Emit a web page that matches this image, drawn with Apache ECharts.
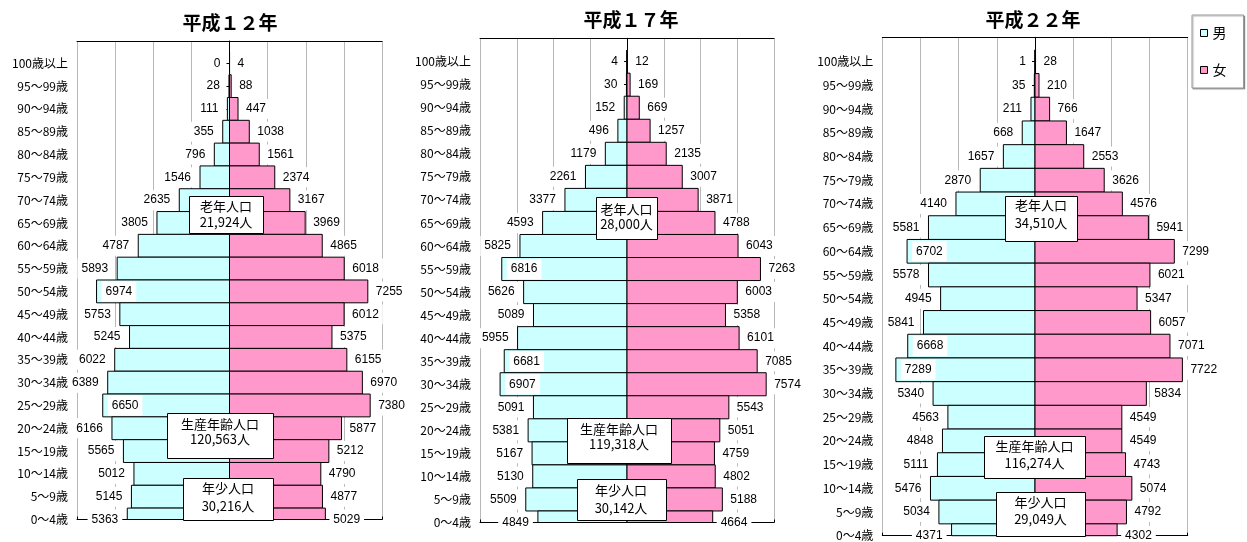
<!DOCTYPE html>
<html>
<head>
<meta charset="utf-8">
<script src="https://cdn.jsdelivr.net/npm/echarts@6/dist/echarts.min.js"></script>
<style>
  html, body { margin: 0; padding: 0; background: #fff; }
  #chart { width: 1247px; height: 542px; }
</style>
</head>
<body>
<div id="chart"></div>
<script>
// Age groups, oldest at the top
const AGES = ['100歳以上', '95～99歳', '90～94歳', '85～89歳', '80～84歳', '75～79歳', '70～74歳',
  '65～69歳', '60～64歳', '55～59歳', '50～54歳', '45～49歳', '40～44歳', '35～39歳', '30～34歳',
  '25～29歳', '20～24歳', '15～19歳', '10～14歳', '5～9歳', '0～4歳'];

const YEARS = ['平成１２年', '平成１７年', '平成２２年'];

// Population by age group (persons), same order as AGES
const MALE_H12   = [0, 28, 111, 355, 796, 1546, 2635, 3805, 4787, 5893, 6974, 5753, 5245, 6022, 6389, 6650, 6166, 5565, 5012, 5145, 5363];
const FEMALE_H12 = [4, 88, 447, 1038, 1561, 2374, 3167, 3969, 4865, 6018, 7255, 6012, 5375, 6155, 6970, 7380, 5877, 5212, 4790, 4877, 5029];
const MALE_H17   = [4, 30, 152, 496, 1179, 2261, 3377, 4593, 5825, 6816, 5626, 5089, 5955, 6681, 6907, 5091, 5381, 5167, 5130, 5509, 4849];
const FEMALE_H17 = [12, 169, 669, 1257, 2135, 3007, 3871, 4788, 6043, 7263, 6003, 5358, 6101, 7085, 7574, 5543, 5051, 4759, 4802, 5188, 4664];
const MALE_H22   = [1, 35, 211, 668, 1657, 2870, 4140, 5581, 6702, 5578, 4945, 5841, 6668, 7289, 5340, 4563, 4848, 5111, 5476, 5034, 4371];
const FEMALE_H22 = [28, 210, 766, 1647, 2553, 3626, 4576, 5941, 7299, 6021, 5347, 6057, 7071, 7722, 5834, 4549, 4549, 4743, 5074, 4792, 4302];

// Totals of the three age bands as published
const ELDERLY  = [21924, 28000, 34510];
const WORKING  = [120563, 119318, 116274];
const CHILDREN = [30216, 30142, 29049];

const MALE = [MALE_H12, MALE_H17, MALE_H22];
const FEMALE = [FEMALE_H12, FEMALE_H17, FEMALE_H22];

const MALE_COLOR = '#ccffff';
const FEMALE_COLOR = '#ff99cc';
const GRID_COLOR = '#b8b8b8';
const NUM_FONT = '12px "Liberation Sans", Arial, sans-serif';
const CJK = '"Noto Sans CJK JP", sans-serif';

// Plot frames of the three pyramids (pixels) and the age-index range each one shows
const FRAMES = [
  { left: 77,    top: 41,   right: 382,    bottom: 519.5, yMin: -0.977, yMax: 20, titleX: 230,  titleY: 23 },
  { left: 480,   top: 38.3, right: 774,    bottom: 522.5, yMin: -1.014, yMax: 20, titleX: 631,  titleY: 20 },
  { left: 882.3, top: 37.3, right: 1187.7, bottom: 535.7, yMin: -1.03,  yMax: 20, titleX: 1033, titleY: 19.5 }
];

// Boxes naming the age bands: [x, y, w, h, centreX, line1Y, line2Y]
const BOXES = [
  [[189, 196, 74, 37, 226, 206.5, 222.5], [167, 413, 106, 45, 220, 424, 439], [183, 478, 90, 42, 228, 488.5, 506]],
  [[596, 197, 61, 42, 626.5, 209, 224], [567, 418, 104, 45, 619, 429.5, 444], [577, 479, 89, 41, 621, 490, 508]],
  [[1005, 196, 72, 45, 1041, 205.5, 223], [984, 436, 101, 42, 1034.5, 446.5, 463.5], [996, 492, 89, 44, 1040.5, 502.5, 519.5]]
];

const fmt = n => n.toLocaleString('en-US');

function barRenderer(isMale) {
  return function (params, api) {
    const v = api.value(0);
    const idx = api.value(1);
    const raw = api.value(2);
    const a = api.coord([0, idx]);
    const b = api.coord([v, idx]);
    const h = api.size([0, 1])[1];
    const cs = params.coordSys;
    const shape = echarts.graphic.clipRectByRect(
      { x: Math.min(a[0], b[0]), y: a[1] - h / 2, width: Math.abs(b[0] - a[0]), height: h },
      { x: cs.x, y: cs.y, width: cs.width, height: cs.height }
    );
    const children = [];
    if (shape) {
      children.push({
        type: 'rect', shape: shape,
        style: { fill: isMale ? MALE_COLOR : FEMALE_COLOR, stroke: '#000', lineWidth: 1 }
      });
    }
    let lx, align;
    if (isMale) {
      if (raw > 6500) { lx = b[0] + 5; align = 'left'; }
      else { lx = b[0] - 5; align = 'right'; }
    } else {
      lx = b[0] + 4; align = 'left';
    }
    children.push({
      type: 'text', x: lx, y: a[1], z2: 10,
      style: {
        text: String(raw), fill: '#000', font: NUM_FONT,
        align: align, verticalAlign: 'middle',
        backgroundColor: '#fff', padding: [4, 4]
      }
    });
    return { type: 'group', children: children };
  };
}

const grids = [], xAxes = [], yAxes = [], series = [], graphics = [];
const indices = AGES.map((_, i) => i);

FRAMES.forEach((f, p) => {
  grids.push({ left: f.left, top: f.top, width: f.right - f.left, height: f.bottom - f.top, containLabel: false });
  const xBase = {
    gridIndex: p, type: 'value', min: -8000, max: 8000, interval: 2000,
    axisLabel: { show: false }
  };
  // top frame line with vertical gridlines
  xAxes.push(Object.assign({}, xBase, {
    position: 'top',
    axisLine: { show: true, onZero: false, lineStyle: { color: '#000', width: 1 } },
    axisTick: { show: false },
    splitLine: { show: true, lineStyle: { color: GRID_COLOR, width: 1 } }
  }));
  // bottom frame line with small inner ticks
  xAxes.push(Object.assign({}, xBase, {
    position: 'bottom',
    axisLine: { show: true, onZero: false, lineStyle: { color: '#000', width: 1 } },
    axisTick: { show: true, inside: true, length: 3, lineStyle: { color: '#000' } },
    splitLine: { show: false }
  }));
  // age labels on the left
  yAxes.push({
    gridIndex: p, type: 'value', inverse: true, min: f.yMin, max: f.yMax,
    position: 'left',
    axisLine: { show: false, onZero: false },
    axisTick: { show: false },
    splitLine: { show: false },
    axisLabel: {
      customValues: indices, margin: 9,
      formatter: v => AGES[Math.round(v)] || '',
      color: '#000', fontSize: 12, fontFamily: CJK
    }
  });
  // centre line at zero
  yAxes.push({
    gridIndex: p, type: 'value', inverse: true, min: f.yMin, max: f.yMax,
    position: 'left', z: 1,
    axisLine: { show: true, onZero: true, onZeroAxisIndex: p * 2, lineStyle: { color: '#000', width: 1 } },
    axisTick: { show: true, customValues: indices, length: 3, lineStyle: { color: '#000' } },
    axisLabel: { show: false },
    splitLine: { show: false }
  });

  series.push({
    name: '男', type: 'custom', xAxisIndex: p * 2, yAxisIndex: p * 2,
    renderItem: barRenderer(true),
    itemStyle: { color: MALE_COLOR, borderColor: '#000' },
    encode: { x: 0, y: 1 },
    data: MALE[p].map((v, i) => [-v, i, v])
  });
  series.push({
    name: '女', type: 'custom', xAxisIndex: p * 2, yAxisIndex: p * 2,
    renderItem: barRenderer(false),
    itemStyle: { color: FEMALE_COLOR, borderColor: '#000' },
    encode: { x: 0, y: 1 },
    data: FEMALE[p].map((v, i) => [v, i, v])
  });

  graphics.push({
    type: 'text', x: f.titleX, y: f.titleY, z: 100,
    style: { text: YEARS[p], font: 'bold 19px ' + CJK, fill: '#000', align: 'center', verticalAlign: 'middle' }
  });

  const labels = [['老年人口', ELDERLY[p]], ['生産年齢人口', WORKING[p]], ['年少人口', CHILDREN[p]]];
  BOXES[p].forEach((bx, k) => {
    graphics.push({
      type: 'rect', z: 100,
      shape: { x: bx[0] + 0.5, y: bx[1] + 0.5, width: bx[2], height: bx[3] },
      style: { fill: '#fff', stroke: '#000', lineWidth: 1 }
    });
    graphics.push({
      type: 'text', x: bx[4], y: bx[5], z: 101,
      style: { text: labels[k][0], font: '13px ' + CJK, fill: '#000', align: 'center', verticalAlign: 'middle' }
    });
    graphics.push({
      type: 'text', x: bx[4], y: bx[6], z: 101,
      style: { text: fmt(labels[k][1]) + '人', font: '13px ' + CJK, fill: '#000', align: 'center', verticalAlign: 'middle' }
    });
  });
});

const chart = echarts.init(document.getElementById('chart'), null, { renderer: 'canvas' });
chart.setOption({
  backgroundColor: '#fff',
  animation: false,
  grid: grids,
  xAxis: xAxes,
  yAxis: yAxes,
  legend: {
    data: [
      { name: '男', itemStyle: { color: MALE_COLOR, borderColor: '#000', borderWidth: 1 } },
      { name: '女', itemStyle: { color: FEMALE_COLOR, borderColor: '#000', borderWidth: 1 } }
    ],
    orient: 'vertical', left: 1192, top: 15,
    padding: [11, 17, 11, 8],
    itemWidth: 7, itemHeight: 7, itemGap: 23,
    icon: 'rect',
    selectedMode: false,
    backgroundColor: '#fff',
    borderColor: '#999', borderWidth: 1,
    shadowColor: 'rgba(0,0,0,0.3)', shadowBlur: 1, shadowOffsetX: 1, shadowOffsetY: 1,
    textStyle: { color: '#000', fontSize: 14, fontFamily: CJK }
  },
  graphic: { elements: graphics },
  series: series
});
</script>
</body>
</html>
